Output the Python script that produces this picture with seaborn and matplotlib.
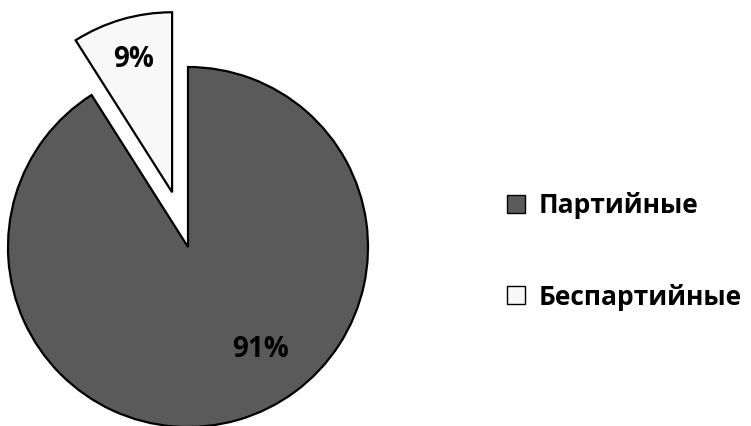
import matplotlib
matplotlib.use('Agg')
import matplotlib.pyplot as plt
import seaborn as sns

# data
labels = ['Партийные', 'Беспартийные']
shares = [91, 9]
colors = ['#5a5a5a', '#f8f8f8']

sns.set_theme(style='white')
plt.rcParams['font.family'] = ['Open Sans', 'DejaVu Sans']

fig = plt.figure(figsize=(7.51, 4.26), dpi=100)
ax = fig.add_axes([0, 0, 1, 1])

# pie drawn in pixel-like data units so the layout is easy to control
R = 180
C = (188, 179)
explode = [0, 57]  # pie() does not scale explode by radius
wedges, texts, autotexts = ax.pie(
    shares, colors=colors, explode=explode, startangle=90, counterclock=False,
    radius=R, center=C, autopct='%1.0f%%', pctdistance=0.77,
    wedgeprops=dict(edgecolor='black', linewidth=1.6),
    textprops=dict(fontsize=20, fontweight='bold', color='black'))

# Excel puts the big label lower-right, nudge it there
autotexts[0].set_position((C[0] + 0.405 * R, C[1] - 0.572 * R))

ax.set_xlim(0, 751)
ax.set_ylim(0, 426)
ax.set_aspect('equal')
ax.axis('off')

leg = fig.legend(wedges, labels, loc='center left', bbox_to_anchor=(0.657, 0.41),
                 frameon=False, handlelength=0.68, handleheight=0.68, handletextpad=0.55,
                 labelspacing=2.45, borderpad=0, labelcolor='black',
                 prop=dict(family=['Open Sans', 'DejaVu Sans'], weight='bold', size=19))
for h in leg.legend_handles:
    h.set_linewidth(1.0)

fig.savefig('out.png', dpi=100)
